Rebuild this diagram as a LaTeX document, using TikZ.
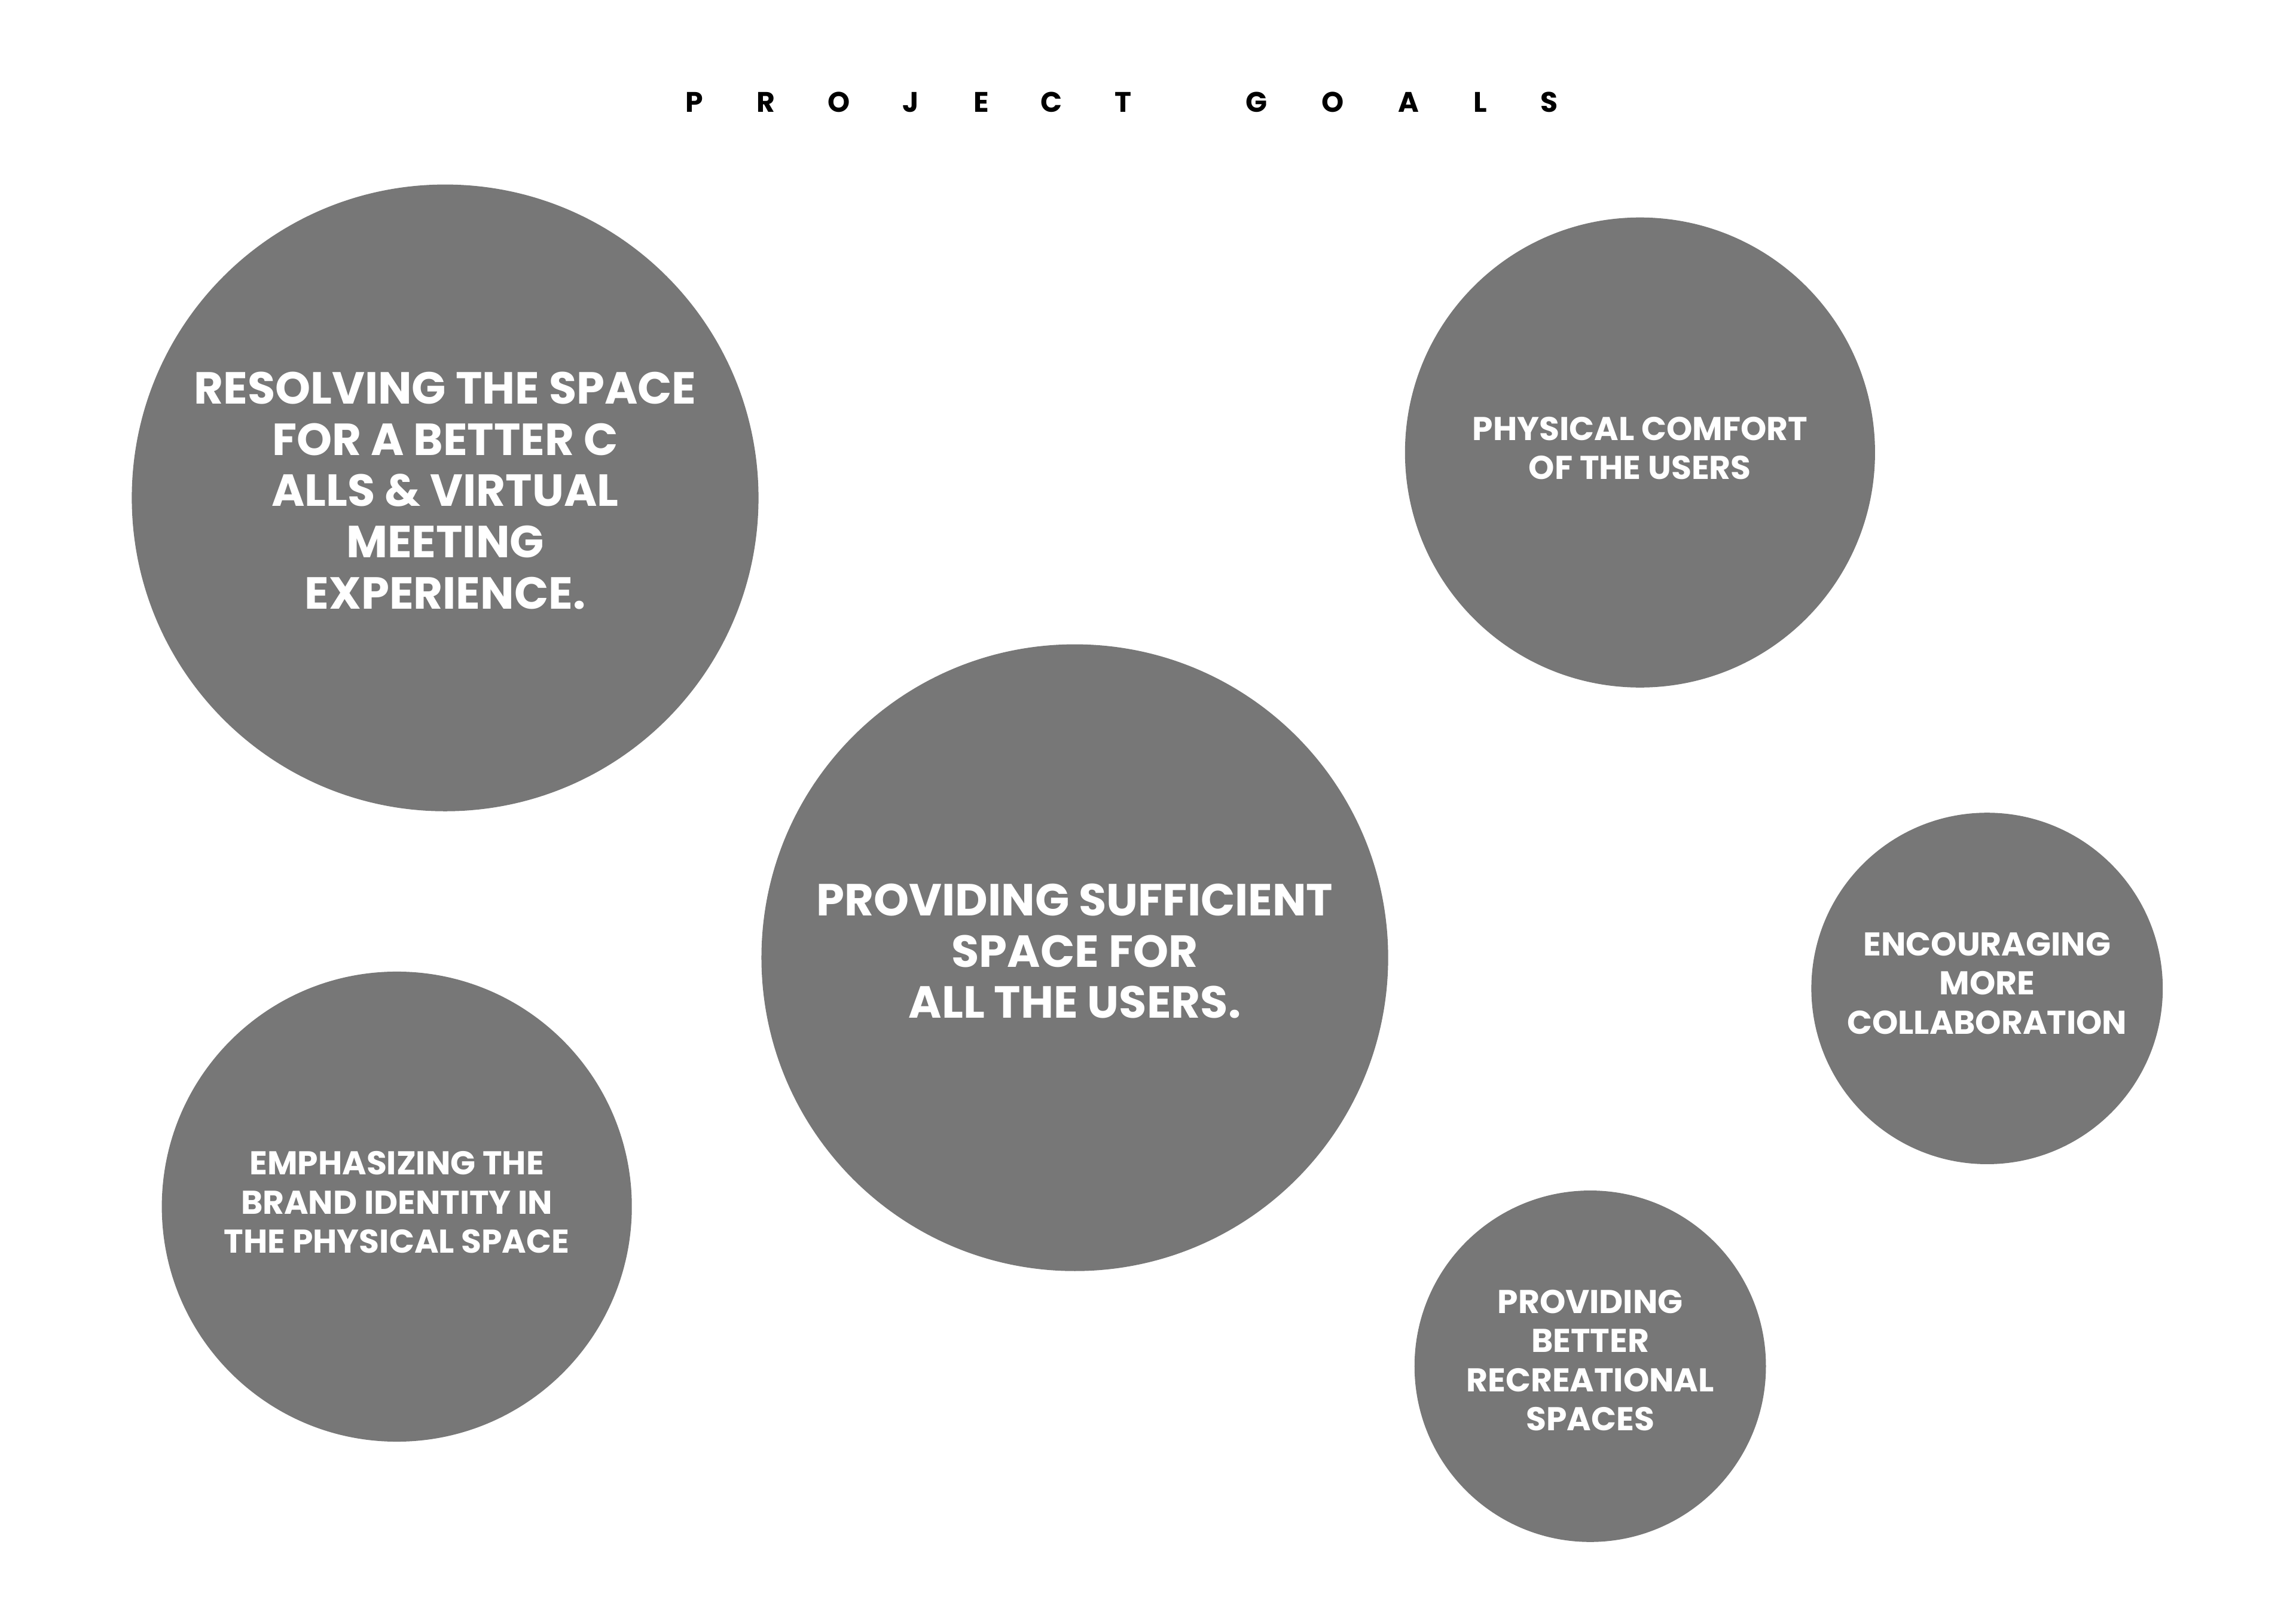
\documentclass[tikz,border=0pt]{standalone}
\usepackage{fontspec}
\setmainfont{Poppins}
\usepackage{tikz}
\usetikzlibrary{positioning}
\definecolor{goalgray}{RGB}{119,119,119}

\begin{document}
\begin{tikzpicture}[x=1pt,y=-1pt,
    goal/.style={circle, fill=goalgray, draw=none, inner sep=0pt},
    goaltext/.style={text=white, align=center, inner sep=0pt},
    bigtext/.style={goaltext, font=\fontsize{30.7}{35}\selectfont\bfseries},
    smalltext/.style={goaltext, font=\fontsize{22.5}{26.7}\selectfont\bfseries},
    titleletter/.style={anchor=base, inner sep=0pt, font=\fontsize{19.3}{20}\selectfont\bfseries}]
  \useasboundingbox (0,0) rectangle (1568,1109);

  % title, letter by letter
  \foreach \ch/\xx [count=\i] in {P/474,R/523,O/573,J/622,E/670,C/718,T/767,G/858,O/910,A/962,L/1011,S/1058}
    \node[titleletter] (title-\i) at (\xx,76.4) {\ch};

  % the goals
  \node[goal, minimum size=428pt] (calls) at (304,340) {};
  \node[goal, minimum size=428pt] (space) at (734,654) {};
  \node[goal, minimum size=321pt] (comfort) at (1120,309) {};
  \node[goal, minimum size=321pt] (brand) at (271,824) {};
  \node[goal, minimum size=240pt] (collab) at (1357,675) {};
  \node[goal, minimum size=240pt] (recreation) at (1086,933) {};

  \node[bigtext] (calls-text) at (304,335) {RESOLVING THE SPACE\\FOR A BETTER C\\ALLS \& VIRTUAL\\MEETING\\EXPERIENCE.};
  \node[bigtext] (space-text) at (734,649.5) {PROVIDING SUFFICIENT\\SPACE FOR\\ALL THE USERS.};
  \node[smalltext] (comfort-text) at (1120,306) {PHYSICAL COMFORT\\OF THE USERS};
  \node[smalltext] (brand-text) at (271,821) {EMPHASIZING THE\\BRAND IDENTITY IN\\THE PHYSICAL SPACE};
  \node[smalltext] (collab-text) at (1357,671.5) {ENCOURAGING\\MORE\\COLLABORATION};
  \node[smalltext] (recreation-text) at (1086,929) {PROVIDING\\BETTER\\RECREATIONAL\\SPACES};
\end{tikzpicture}
\end{document}
